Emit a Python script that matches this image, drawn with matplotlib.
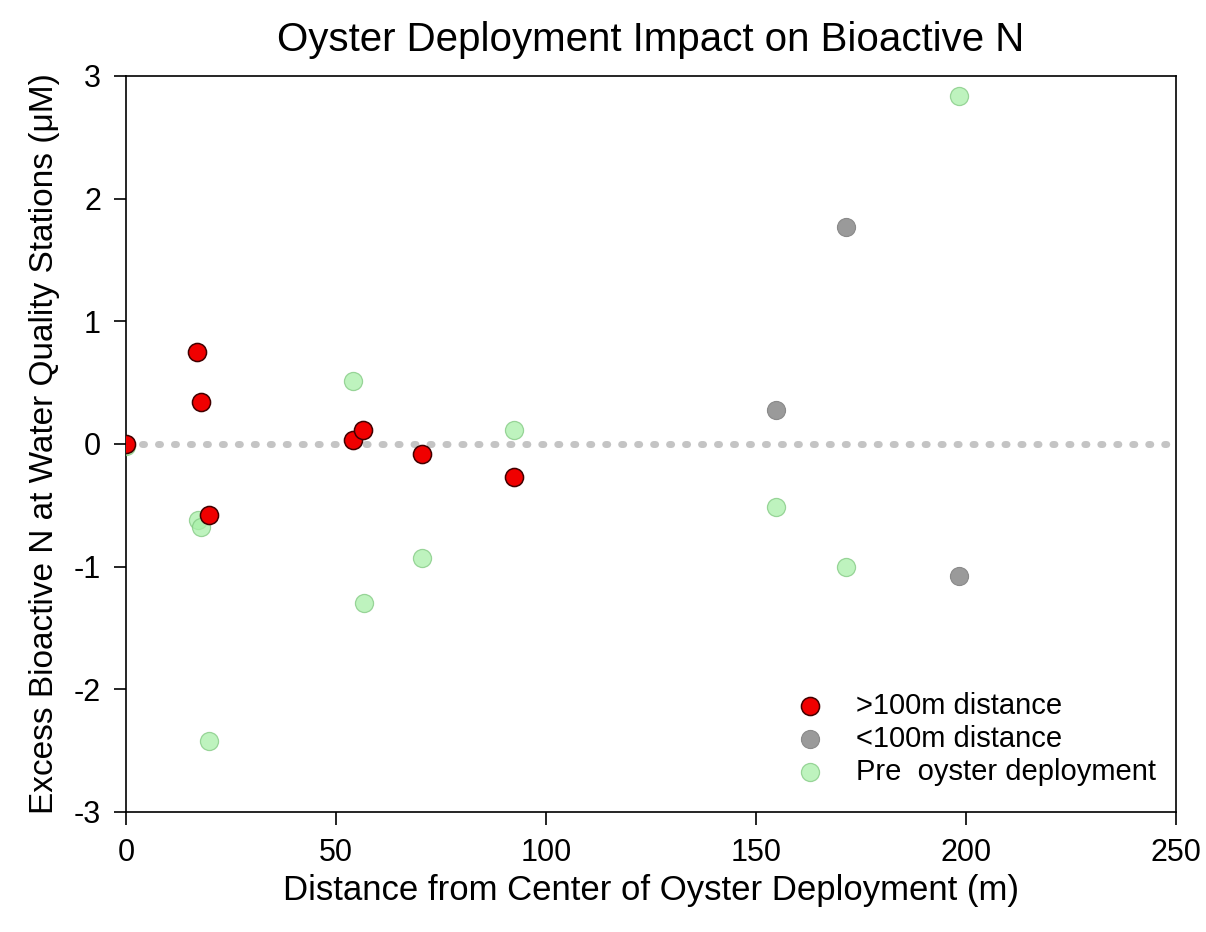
import numpy as np
import matplotlib
matplotlib.use("Agg")
import matplotlib.pyplot as plt

plt.rcParams['font.family'] = ['Liberation Sans', 'DejaVu Sans']
plt.rcParams['axes.unicode_minus'] = False

# >100m distance (red)
far_x = [0, 16.9, 17.9, 19.8, 54.0, 56.5, 70.5, 92.4]
far_y = [0.0, 0.75, 0.34, -0.58, 0.03, 0.11, -0.08, -0.27]

# <100m distance (grey)
near_x = [154.8, 171.4, 198.3]
near_y = [0.28, 1.77, -1.08]

# pre oyster deployment (green)
pre_x = [0, 17.1, 17.9, 19.8, 54.0, 56.7, 70.5, 92.4, 154.8, 171.4, 198.3]
pre_y = [-0.02, -0.62, -0.68, -2.42, 0.51, -1.30, -0.93, 0.11, -0.51, -1.00, 2.84]

fig = plt.figure(figsize=(12.06, 9.32), dpi=100)
ax = fig.add_axes([0.1045, 0.1288, 0.8705, 0.7897])

# zero reference line
ax.plot([0, 250], [0, 0], linestyle=(0, (0.3, 2.0)), color='#c4c4c4', linewidth=5,
        dash_capstyle='round', zorder=1)

ax.scatter(pre_x, pre_y, s=170, color='#a8f0a8', edgecolor='#80c880', linewidth=0.9,
           alpha=0.75, label='Pre  oyster deployment', zorder=3)
ax.scatter(near_x, near_y, s=170, color='#9a9a9a', edgecolor='#8a8a8a', linewidth=0.8,
           label='<100m distance', zorder=4)
ax.scatter(far_x, far_y, s=170, color='#f00000', edgecolor='#400000', linewidth=1.1,
           label='>100m distance', zorder=5)

ax.set_xlim(0, 250)
ax.set_ylim(-3, 3)
ax.set_xticks([0, 50, 100, 150, 200, 250])
ax.set_yticks([-3, -2, -1, 0, 1, 2, 3])
ax.tick_params(direction='out', length=9, width=1.2, labelsize=22, top=False, right=False)
ax.tick_params(axis='x', pad=10)
ax.tick_params(axis='y', pad=9)
for sp in ax.spines.values():
    sp.set_linewidth(1.2)

ax.set_title('Oyster Deployment Impact on Bioactive N', fontsize=29, pad=18)
ax.set_xlabel('Distance from Center of Oyster Deployment (m)', fontsize=25, labelpad=4)
ax.set_ylabel('Excess Bioactive N at Water Quality Stations (\u03bcM)', fontsize=24, labelpad=10)

handles, labels = ax.get_legend_handles_labels()
order = [2, 1, 0]
ax.legend([handles[i] for i in order], [labels[i] for i in order],
          loc='lower right', bbox_to_anchor=(1.006, 0.0), frameon=False, fontsize=21,
          handletextpad=0.6, labelspacing=0.18, borderaxespad=0.49)

fig.savefig('out.png', dpi=100)
